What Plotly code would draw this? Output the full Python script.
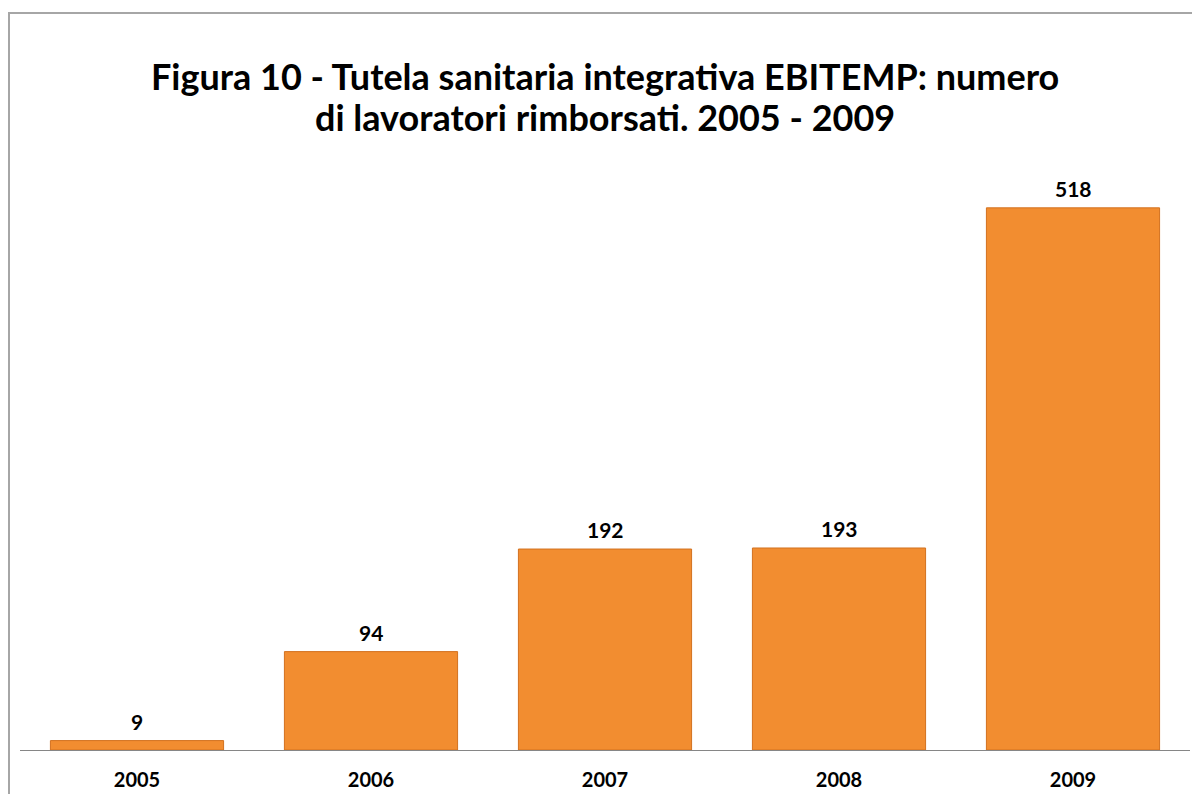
import plotly.graph_objects as go

# Data
years = ["2005", "2006", "2007", "2008", "2009"]
workers = [9, 94, 192, 193, 518]

FONT = "Lato"

# The page body has an 8px margin, so the figure is sized to fit the window
W, H = 1184, 786
L, R, T, B = 12, 2, 114, 44
PW, PH = W - L - R, H - T - B

fig = go.Figure()

fig.add_trace(
    go.Bar(
        x=years,
        y=workers,
        marker=dict(color="#F28D30", line=dict(color="#D2711F", width=1)),
        showlegend=False,
        hoverinfo="x+y",
    )
)

# Value labels above each bar (category index, since years look numeric)
for i, v in enumerate(workers):
    fig.add_annotation(
        x=i,
        y=v,
        text=str(v),
        showarrow=False,
        yanchor="bottom",
        yshift=5,
        font=dict(family=FONT, size=21, color="#000000", weight="bold"),
    )

# Two-line title, each line placed separately to match the line spacing
fig.add_annotation(
    xref="paper",
    yref="paper",
    x=0.5,
    y=(H - B - 68) / PH,
    text="Figura 10 - Tutela sanitaria integrativa EBITEMP: numero",
    showarrow=False,
    yanchor="middle",
    font=dict(family=FONT, size=36, color="#000000", weight="bold"),
)
fig.add_annotation(
    xref="paper",
    yref="paper",
    x=0.5,
    y=(H - B - 109) / PH,
    text="di lavoratori rimborsati. 2005 - 2009",
    showarrow=False,
    yanchor="middle",
    font=dict(family=FONT, size=36, color="#000000", weight="bold"),
)

fig.update_layout(
    width=W,
    height=H,
    paper_bgcolor="white",
    plot_bgcolor="white",
    margin=dict(l=L, r=R, t=T, b=B),
    bargap=0.26,
    xaxis=dict(
        type="category",
        range=[-0.5, len(years) - 0.5],
        automargin=False,
        showline=True,
        linecolor="#868686",
        linewidth=1,
        showgrid=False,
        ticks="",
        ticklabelstandoff=12,
        tickfont=dict(family=FONT, size=20, color="#000000", weight="bold"),
    ),
    yaxis=dict(
        range=[0, 600],
        visible=False,
        automargin=False,
        showgrid=False,
        zeroline=False,
    ),
)

# Outer chart border (only the top and left edges are visible)
fig.add_shape(
    type="rect",
    xref="paper",
    yref="paper",
    x0=(1 - L) / PW,
    x1=1.2,
    y0=-0.5,
    y1=(H - B - 5) / PH,
    line=dict(color="#A6A6A6", width=2),
    fillcolor="rgba(0,0,0,0)",
    layer="below",
)

fig.write_html("out.html")
